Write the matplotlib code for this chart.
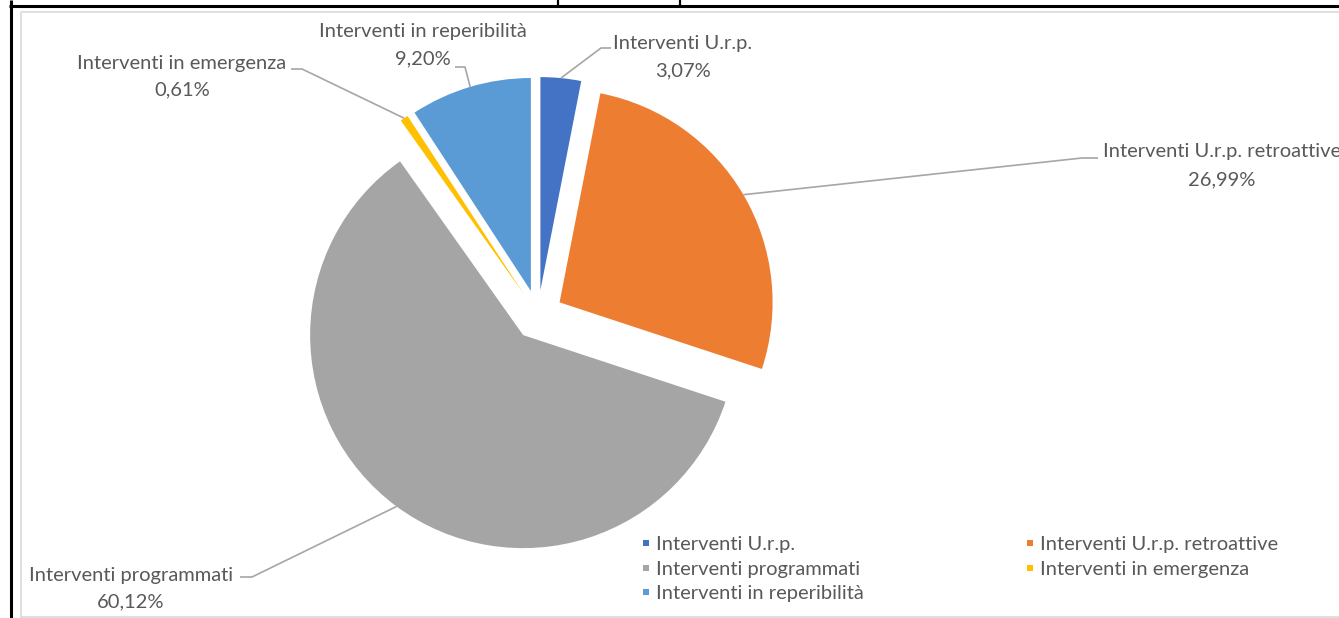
import numpy as np
import matplotlib
matplotlib.use("Agg")
import matplotlib.pyplot as plt
from matplotlib.lines import Line2D

# data (percentuali)
categories = [
    "Interventi U.r.p.",
    "Interventi U.r.p. retroattive",
    "Interventi programmati",
    "Interventi in emergenza",
    "Interventi in reperibilità",
]
values = [3.07, 26.99, 60.12, 0.61, 9.20]
colors = ["#4472C4", "#ED7D31", "#A5A5A5", "#FFC000", "#5B9BD5"]

# layout in pixel (origine in alto a sinistra)
W, H = 1339, 618
center = (538, 315)
radius = 213
explode_px = 25
# centro del testo (x), riga 1 (y), riga 2 (y), tratto orizzontale (x0, x1, y)
label_pos = [
    (683, 44, 71, 611, 601, 48),
    (1222, 152, 180, 1098, 1082, 158),
    (131, 575, 602, 240, 252, 577),
    (182, 63, 90, 291, 302, 69),
    (423, 32, 59, 455, 465, 67),
]

text_color = "#595959"
line_color = "#A6A6A6"
font = "Lato"
fsize = 14.5

fig = plt.figure(figsize=(W / 100, H / 100), dpi=100)
ax = fig.add_axes([0, 0, 1, 1])

wedges, _ = ax.pie(
    values,
    colors=colors,
    center=center,
    radius=radius,
    explode=[explode_px] * len(values),
    startangle=-90,
    counterclock=True,
    wedgeprops=dict(linewidth=0),
)
ax.set_xlim(0, W)
ax.set_ylim(H, 0)
ax.set_aspect("auto")
ax.axis("off")

# etichette con linee guida
for w, cat, val, pos in zip(wedges, categories, values, label_pos):
    tx, y1, y2, sx0, sx1, sy = pos
    mid = np.deg2rad((w.theta1 + w.theta2) / 2)
    cx, cy = w.center
    px = cx + w.r * np.cos(mid)
    py = cy + w.r * np.sin(mid)
    ax.plot([sx0, sx1, px], [sy, sy, py], color=line_color, lw=1.2,
            solid_capstyle="butt", zorder=1)
    pct = f"{val:.2f}".replace(".", ",") + "%"
    ax.text(tx, y1, cat, ha="center", va="center", color=text_color,
            fontsize=fsize, family=font)
    ax.text(tx, y2, pct, ha="center", va="center", color=text_color,
            fontsize=fsize, family=font)

# legenda (ordinata per righe)
order = [0, 2, 4, 1, 3]
handles = [
    Line2D([], [], marker="s", linestyle="none", markersize=5,
           markerfacecolor=colors[i], markeredgewidth=0)
    for i in order
]
leg = ax.legend(
    handles,
    [categories[i] for i in order],
    ncol=2,
    loc="upper left",
    bbox_to_anchor=(641 / W, 1 - 536 / H),
    frameon=False,
    prop=dict(family=font, size=fsize),
    labelcolor=text_color,
    handlelength=0.5,
    handletextpad=0.25,
    columnspacing=8.0,
    labelspacing=0.37,
    borderaxespad=0,
    borderpad=0,
)

# cornice del grafico e bordi della tabella
ax.plot([21, 21, W + 5], [617, 12, 12], color="#D9D9D9", lw=1.2, clip_on=False)
ax.plot([21, W + 5], [617, 617], color="#D9D9D9", lw=1.2, clip_on=False)
ax.plot([9, W], [6, 6], color="black", lw=2.2, solid_capstyle="butt")
ax.plot([10.5, 10.5], [0, H], color="black", lw=2.2, solid_capstyle="butt")
for xv in [558, 680]:
    ax.plot([xv, xv], [0, 6], color="black", lw=1.6, solid_capstyle="butt")

fig.savefig("out.png", dpi=100, facecolor="white")
